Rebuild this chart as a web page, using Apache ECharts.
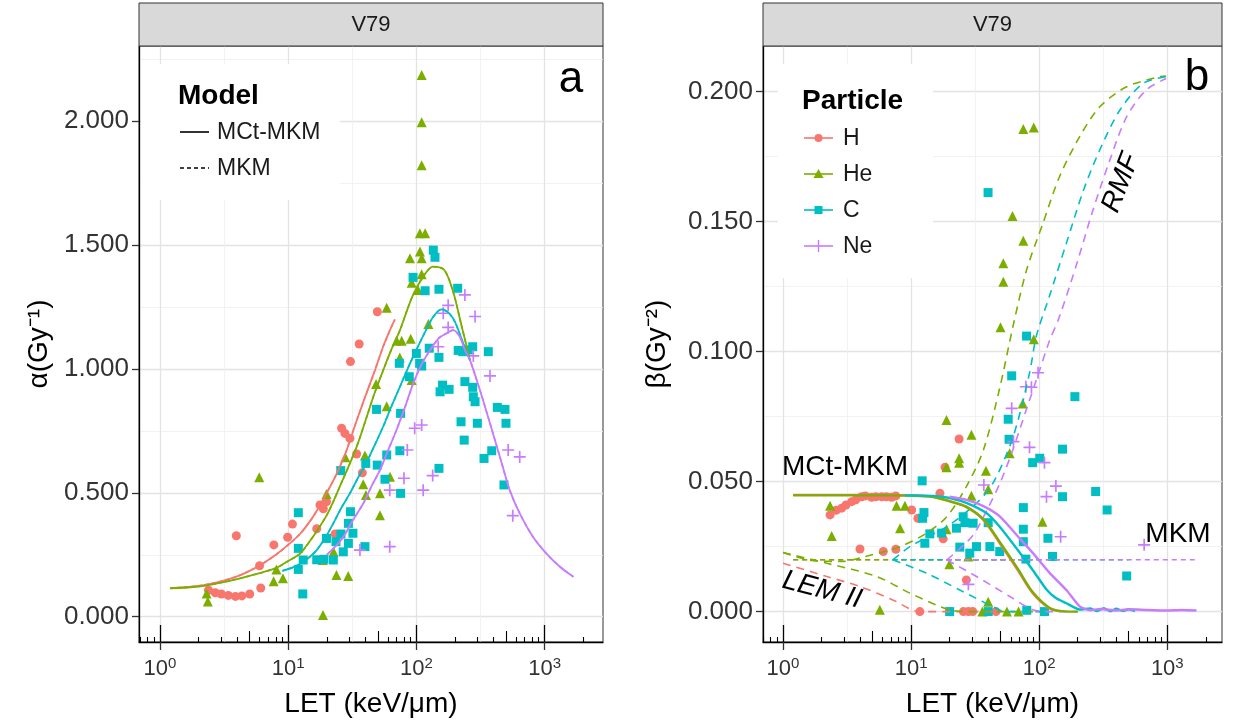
<!DOCTYPE html>
<html>
<head>
<meta charset="utf-8">
<script src="https://cdn.jsdelivr.net/npm/echarts@6/dist/echarts.min.js"></script>
<style>
html, body { margin: 0; background: #fff; }
#chart { width: 1233px; height: 726px; }
</style>
</head>
<body>
<div id="chart"></div>
<script>
// ---- axis ticks ----
const decadeTicks = [1, 10, 100, 1000];
const fiveTicks = [5, 50, 500];
const smallTicks = [0.7, 0.8, 0.9, 2, 3, 4, 6, 7, 8, 9, 20, 30, 40, 60, 70, 80, 90,
  200, 300, 400, 600, 700, 800, 900, 2000];
const halfDecades = [3.1623, 31.623, 316.23];
const alphaTicks = [0, 0.5, 1, 1.5, 2];
const alphaMinor = [0.25, 0.75, 1.25, 1.75, 2.25];
const betaTicks = [0, 0.05, 0.1, 0.15, 0.2];
const betaMinor = [0.025, 0.075, 0.125, 0.175];

// ---- panel a : alpha points [LET, alpha] ----
const alphaH = [[2.39,0.107],[2.70,0.097],[3.01,0.092],[3.41,0.086],[3.88,0.082],[4.35,0.084],[5.01,0.092],
  [3.94,0.327],[5.98,0.206],[6.11,0.116],[7.73,0.290],[9.91,0.321],[10.8,0.374],[16.7,0.355],[17.7,0.451],
  [18.8,0.436],[19.9,0.464],[23.2,0.334],[26.1,0.761],[27.7,0.740],[30.3,0.720],[30.6,1.03],[35.8,1.101],
  [49.6,1.231],[34.2,0.657],[37.9,0.581]];
const alphaHe = [[2.31,0.094],[2.36,0.061],[5.95,0.563],[7.7,0.143],[9.1,0.155],[8.1,0.191],[18.7,0.007],
  [19.9,0.495],[18.6,0.229],[22.6,0.262],[23.8,0.168],[29.4,0.164],[27.9,0.644],[39.7,0.651],[38.5,0.535],
  [40.4,0.491],[52,0.498],[52,0.41],[48.5,0.94],[58.7,0.85],[62.3,0.565],[58.7,1.247],[70.2,1.114],
  [76.8,1.114],[74.3,1.047],[90.3,1.122],[91.9,0.956],[91.9,1.348],[89.2,1.447],[106.6,1.474],[110,1.447],
  [103,1.319],[110,1.383],[106.5,1.548],[117,1.548],[110,1.823],[110,1.996],[110,2.187],[124,1.182]];
const alphaC = [[12.0,0.42],[13.0,0.092],[12.0,0.276],[12.0,0.191],[13.1,0.229],[16.7,0.23],[19.0,0.232],
  [19.9,0.316],[22.5,0.229],[23.6,0.303],[25.8,0.334],[26.9,0.262],[29.5,0.296],[30.6,0.424],[29.5,0.377],
  [32,0.337],[39.7,0.283],[25.7,0.59],[40.3,0.619],[49.5,0.612],[48.9,0.837],[58.7,0.653],[56.9,0.555],
  [75.3,0.498],[74.3,0.67],[75.3,0.821],[73.6,1.023],[88,0.969],[100,1.063],[106,1.023],[94.2,1.37],
  [117,1.316],[135.5,1.48],[139.7,1.451],[150,1.322],[210,1.326],[126,1.084],[150,1.047],[110,1.012],
  [212,1.075],[230,1.07],[254,1.077],[275,1.09],[364,1.07],[150,0.599],[153,0.908],[160,0.935],[180,0.918],
  [239,0.949],[275,0.926],[278,0.888],[287,0.868],[223,0.787],[299,0.781],[236,0.713],[428,0.845],
  [491,0.837],[500,0.781],[337,0.639],[387,0.67],[482,0.532]];
const alphaNe = [[36.3,0.269],[62,0.283],[62,0.511],[80,0.559],[85,0.673],[97,0.761],[110,0.774],[113,0.511],
  [134,0.57],[148,1.09],[177,1.257],[162,1.225],[177,1.168],[239,1.299],[287,1.212],[278,1.053],[375,0.972],
  [520,0.673],[640,0.645],[565,0.408]];

// ---- panel a : model curves ----
const alphaModelH = [[1.2,0.115],[2,0.125],[3,0.143],[4,0.163],[5,0.185],[6.4,0.216],[8,0.25],[10,0.29],
  [12.4,0.335],[15,0.39],[17.5,0.445],[20,0.5],[23.5,0.57],[28,0.66],[33.6,0.78],[40,0.89],[47.9,1.0],
  [55,1.09],[61.4,1.15],[68,1.2]];
const alphaModelHe = [[1.2,0.115],[2,0.122],[3.5,0.145],[5,0.165],[7.9,0.195],[10,0.225],[12.4,0.255],
  [14.5,0.3],[16.7,0.345],[20,0.41],[22.5,0.465],[26,0.54],[30.3,0.619],[35,0.7],[40.6,0.8],[47,0.9],
  [55.2,0.996],[64,1.08],[74.5,1.157],[85,1.24],[94.5,1.3],[113,1.373],[135,1.413],[165,1.40],[194,1.31],
  [225,1.175],[262,1.036]];
const alphaModelC = [[9,0.185],[11,0.2],[13,0.22],[15,0.245],[16.7,0.269],[19.5,0.32],[22.5,0.377],[26,0.44],
  [30.3,0.498],[35,0.56],[40.6,0.619],[47,0.69],[55,0.767],[64,0.85],[74.5,0.929],[87,1.01],[100,1.077],
  [117,1.15],[135,1.21],[157,1.241],[180,1.225],[200,1.19],[232,1.104],[262,1.036]];
const alphaModelNe = [[20,0.25],[24,0.29],[27,0.323],[32,0.39],[38.6,0.458],[45,0.53],[52,0.592],[60,0.67],
  [70,0.754],[82,0.85],[94.5,0.942],[110,1.02],[128,1.077],[150,1.125],[172,1.144],[194,1.157],[218,1.13],
  [239,1.077],[262,1.036],[313,0.915],[375,0.781],[448,0.646],[535,0.511],[640,0.417],[811,0.323],
  [1030,0.256],[1317,0.202],[1680,0.161]];

// ---- panel b : beta points ----
const betaH = [[2.33,0.0372],[2.6,0.039],[2.87,0.0398],[3.1,0.041],[3.44,0.0423],[3.7,0.043],[4.11,0.0442],
  [4.4,0.0445],[4.92,0.044],[5.3,0.0442],[5.89,0.0442],[6.4,0.0442],[7.05,0.044],[7.6,0.0445],[10.1,0.0391],
  [11.3,0.0359],[3.99,0.0241],[6.07,0.0231],[7.6,0.024],[11.7,0],[16.8,0.0455],[18.4,0.0555],[23.7,0.0664],
  [17.8,0.028],[27,0.0122],[20,0],[25.6,0],[28,0],[30.3,0],[46,0]];
const betaHe = [[2.33,0.0407],[2.4,0.0291],[5.7,0.0007],[7.7,0.0407],[8.95,0.0407],[8.2,0.0321],[18.9,0.0737],
  [18.9,0.0555],[18.9,0.0317],[19.9,0.0182],[23.7,0.059],[23.7,0.0573],[28,0.0212],[29.6,0.068],
  [29.6,0.0446],[38.4,0.0542],[40,0.0471],[40,0.0038],[49.9,0.1094],[52.5,0.134],[52.5,0.1269],
  [58.8,0.0609],[61.9,0.1522],[74.4,0.0801],[75.2,0.1427],[75.2,0.1857],[90.7,0.1862],[90.7,0.1048],
  [106,0.0346],[56,0],[69,0],[36,0]];
const betaC = [[12.2,0.0503],[12.6,0.0381],[12.3,0.0359],[14,0.0299],[12.8,0.0263],[17.3,0.0302],
  [22.6,0.0321],[26.3,0.0342],[25.5,0.0365],[30.5,0.034],[40,0.0342],[24,0.0248],[32.4,0.025],[41.2,0.025],
  [28.7,0.0225],[39.9,0.1612],[49.2,0.0231],[57.3,0.074],[58.2,0.0663],[61,0.0907],[75.2,0.0317],
  [75.2,0.0269],[75.2,0.04],[78.7,0.0202],[79.7,0.106],[88.9,0.0573],[101,0.059],[117,0.0282],[127,0.0212],
  [152,0.0625],[152,0.0442],[190,0.0827],[276,0.0462],[339,0.0391],[482,0.0137],[20,0],[40,0],
  [80,0.0005],[110,0]];
const betaNe = [[37,0.0487],[61,0.0782],[63,0.0654],[78.7,0.0865],[87,0.0863],[98,0.0919],[84,0.0632],
  [110,0.0573],[114,0.0442],[135,0.0483],[147,0.0288],[28,0.0105],[660,0.0257]];

// ---- panel b : MCt-MKM curves ----
const betaMctH = [[1.2,0.0449],[3,0.0449],[6,0.0449],[10,0.0447],[14.9,0.0442],[20,0.0425],[27,0.0404],
  [36.7,0.0353],[49.2,0.0263],[68,0.016],[89,0.0071],[120,0.0013],[146,0.0001]];
const betaMctHe = [[1.2,0.0447],[3,0.0447],[6,0.0447],[10,0.0446],[14.9,0.0441],[20,0.0424],[27,0.0402],
  [36.7,0.0355],[49.2,0.0268],[68,0.0165],[89,0.0075],[120,0.0015],[150,0.0002],[200,0]];
const betaMctC = [[9,0.0447],[15,0.0445],[20,0.0437],[27,0.0418],[38.9,0.0378],[49,0.0327],[68,0.0237],
  [89,0.016],[114,0.0085],[135,0.0052],[163,0.0032],[207,0.0008],[250,0.0012],[280,0.0002],[320,0.0013],
  [360,0.0001],[400,0.0011],[450,0.0003],[500,0.0009],[560,0.0002]];
const betaMctNe = [[20,0.0442],[27,0.043],[36.7,0.0406],[49,0.0367],[68,0.029],[89,0.0226],[120,0.015],
  [163,0.0083],[207,0.002],[250,0.0005],[300,0.001],[400,0.0004],[500,0.0009],[700,0.0006],[1000,0.0004],
  [1300,0.0006],[1690,0.0004]];

// ---- panel b : MKM, LEM II and RMF curves ----
const betaMkmH = [[1.2,0.0199],[60,0.0199]];
const betaMkmHe = [[1.2,0.0199],[110,0.0199]];
const betaMkmC = [[7.2,0.0199],[500,0.0199]];
const betaMkmNe = [[19,0.0199],[1700,0.0199]];
const betaLemH = [[1,0.0186],[2.2,0.0135],[4,0.0096],[7.2,0.0045],[11.7,0],[46,0]];
const betaLemHe = [[1,0.0227],[2.2,0.0186],[5.4,0.0135],[9.8,0.0071],[20,0.0007],[30,0],[110,0]];
const betaLemC = [[7.2,0.0199],[13.2,0.0148],[24,0.0083],[43.6,0.0019],[55,0],[120,0]];
const betaLemNe = [[19,0.0199],[32.4,0.0135],[59,0.0058],[89,0.0007],[120,0],[200,0]];
const betaRmfHe = [[1,0.0227],[1.8,0.0195],[2.9,0.0193],[4.4,0.0212],[8.2,0.025],[13.2,0.0302],[19,0.0365],
  [27,0.0481],[36.7,0.0622],[49.2,0.086],[62.6,0.11],[79.7,0.1314],[107,0.1494],[144,0.1673],[207,0.1827],
  [297,0.1942],[482,0.2019],[870,0.2058],[980,0.206]];
const betaRmfC = [[7.2,0.0199],[9.8,0.025],[19,0.0327],[32.4,0.0417],[43.6,0.0494],[62.6,0.0673],[84,0.0917],
  [95,0.106],[120,0.1212],[163,0.1417],[222,0.1622],[297,0.1776],[427,0.193],[647,0.2032],[980,0.2058]];
const betaRmfNe = [[19,0.0199],[30,0.029],[40,0.04],[50,0.05],[62,0.062],[79.7,0.078],[101,0.093],
  [120,0.104],[144,0.1135],[197,0.134],[263,0.1545],[356,0.1737],[482,0.1904],[686,0.2007],[980,0.2051]];

const colH = '#F8766D', colHe = '#7CAE00', colC = '#00BFC4', colNe = '#C77CFF';
const FONT = 'Liberation Sans, Arial, sans-serif';
const TICK_COL = '#333';
const plusPath = 'path://M4.3,0H5.7V4.3H10V5.7H5.7V10H4.3V5.7H0V4.3H4.3Z';

// panel boxes
const panels = [
  { left: 139, right: 603, xmin: 0.686, xmax: 2856, ymin: -0.102, ymax: 2.304,
    ticks: alphaTicks, minor: alphaMinor, yname: 'α(Gy⁻¹)', gap: 86, fmt: 3 },
  { left: 763, right: 1222, xmin: 0.698, xmax: 2674, ymin: -0.0117, ymax: 0.2176,
    ticks: betaTicks, minor: betaMinor, yname: 'β(Gy⁻²)', gap: 92, fmt: 3 }
];

const chartDom = document.getElementById('chart');
const myChart = echarts.init(chartDom);

const xAxes = [];
const yAxes = [];
panels.forEach((p, gi) => {
  const base = { gridIndex: gi, type: 'log', position: 'bottom', min: p.xmin, max: p.xmax,
    axisLine: { show: false, onZero: false }, axisLabel: { show: false }, splitLine: { show: false } };
  const inRange = arr => arr.filter(v => v > p.xmin && v < p.xmax);
  // main: labels, outside decade ticks, major grid
  xAxes.push(Object.assign({}, base, {
    axisLine: { show: true, onZero: false, lineStyle: { color: '#000', width: 1.3 } },
    axisTick: { show: true, customValues: decadeTicks, length: 8, lineStyle: { color: '#333', width: 1.3 } },
    axisLabel: {
      show: true, customValues: decadeTicks, margin: 14,
      formatter: v => '{b|10}{s|' + Math.round(Math.log10(v)) + '}',
      rich: {
        b: { fontFamily: FONT, fontSize: 22, color: TICK_COL, lineHeight: 26 },
        s: { fontFamily: FONT, fontSize: 15, color: TICK_COL, lineHeight: 14, verticalAlign: 'top' }
      }
    },
    splitLine: { show: true, lineStyle: { color: '#E3E3E3', width: 1.3 } },
    name: 'LET (keV/μm)', nameLocation: 'middle', nameGap: 48,
    nameTextStyle: { fontFamily: FONT, fontSize: 28, color: '#000' }
  }));
  // inside log ticks
  xAxes.push(Object.assign({}, base, { axisTick: { show: true, inside: true, customValues: decadeTicks,
    length: 17, lineStyle: { color: '#000', width: 1.3 } } }));
  xAxes.push(Object.assign({}, base, { axisTick: { show: true, inside: true, customValues: inRange(fiveTicks),
    length: 11, lineStyle: { color: '#000', width: 1.1 } } }));
  xAxes.push(Object.assign({}, base, { axisTick: { show: true, inside: true, customValues: inRange(smallTicks),
    length: 5, lineStyle: { color: '#000', width: 1.1 } } }));
  // minor grid at half decades
  xAxes.push(Object.assign({}, base, { axisTick: { show: false, customValues: halfDecades },
    splitLine: { show: true, lineStyle: { color: '#EFEFEF', width: 0.8 } } }));

  yAxes.push({
    gridIndex: gi, type: 'value', position: 'left', min: p.ymin, max: p.ymax,
    axisLine: { show: true, onZero: false, lineStyle: { color: '#000', width: 1.3 } },
    axisTick: { show: true, customValues: p.ticks, length: 7, lineStyle: { color: '#333', width: 1.3 } },
    axisLabel: { customValues: p.ticks, margin: 10, formatter: v => v.toFixed(p.fmt),
      fontFamily: FONT, fontSize: 26, color: TICK_COL },
    splitLine: { show: true, lineStyle: { color: '#E3E3E3', width: 1.3 } },
    name: p.yname, nameLocation: 'middle', nameRotate: 90, nameGap: p.gap,
    nameTextStyle: { fontFamily: FONT, fontSize: 28, color: '#000' }
  });
  yAxes.push({
    gridIndex: gi, type: 'value', position: 'left', min: p.ymin, max: p.ymax,
    axisLine: { show: false, onZero: false }, axisTick: { show: false, customValues: p.minor },
    axisLabel: { show: false },
    splitLine: { show: true, lineStyle: { color: '#EFEFEF', width: 0.8 } }
  });
});

function pts(data, gi, color, symbol, size) {
  return { type: 'scatter', data, xAxisIndex: gi * 5, yAxisIndex: gi * 2, symbol, symbolSize: size,
    itemStyle: { color, opacity: 1 }, z: 3, silent: true };
}
function curve(data, gi, color, dash, width, smooth) {
  return { type: 'line', data, xAxisIndex: gi * 5, yAxisIndex: gi * 2, showSymbol: false,
    smooth: smooth === undefined ? 0.3 : smooth,
    lineStyle: { color, width, type: dash || 'solid' }, z: 4, silent: true };
}

const series = [
  pts(alphaH, 0, colH, 'circle', 9),
  pts(alphaHe, 0, colHe, 'triangle', 10),
  pts(alphaC, 0, colC, 'rect', 9),
  pts(alphaNe, 0, colNe, plusPath, 12),
  curve(alphaModelH, 0, colH, [4, 3], 1.6),
  curve(alphaModelHe, 0, colHe, [4, 3], 1.6),
  curve(alphaModelC, 0, colC, [4, 3], 1.6),
  curve(alphaModelNe, 0, colNe, [4, 3], 1.6),
  curve(alphaModelH, 0, colH, 'solid', 1.8),
  curve(alphaModelHe, 0, colHe, 'solid', 1.8),
  curve(alphaModelC, 0, colC, 'solid', 1.8),
  curve(alphaModelNe, 0, colNe, 'solid', 1.8),

  pts(betaH, 1, colH, 'circle', 9),
  pts(betaHe, 1, colHe, 'triangle', 10),
  pts(betaC, 1, colC, 'rect', 9),
  pts(betaNe, 1, colNe, plusPath, 12),
  curve(betaMkmH, 1, colH, [5, 4], 1.5, false),
  curve(betaMkmHe, 1, colHe, [5, 4], 1.5, false),
  curve(betaMkmC, 1, colC, [5, 4], 1.5, false),
  curve(betaMkmNe, 1, colNe, [5, 4], 1.5, false),
  curve(betaLemH, 1, colH, [8, 6], 1.6),
  curve(betaLemHe, 1, colHe, [8, 6], 1.6),
  curve(betaLemC, 1, colC, [8, 6], 1.6),
  curve(betaLemNe, 1, colNe, [8, 6], 1.6),
  curve(betaRmfHe, 1, colHe, [8, 6], 1.6),
  curve(betaRmfC, 1, colC, [8, 6], 1.6),
  curve(betaRmfNe, 1, colNe, [8, 6], 1.6),
  curve(betaMctH, 1, colH, 'solid', 2.4),
  curve(betaMctHe, 1, colHe, 'solid', 2.4),
  curve(betaMctC, 1, colC, 'solid', 2.4, 0.2),
  curve(betaMctNe, 1, colNe, 'solid', 2.4, 0.2)
];

// strips, legends and text labels
const graphic = [];
panels.forEach(p => {
  graphic.push({ type: 'rect', shape: { x: p.left, y: 3, width: p.right - p.left, height: 43 },
    style: { fill: '#D9D9D9', stroke: '#333', lineWidth: 1 }, z: 10 });
  graphic.push({ type: 'text', x: (p.left + p.right) / 2, y: 25,
    style: { text: 'V79', font: '22px ' + FONT, fill: '#1A1A1A', align: 'center', verticalAlign: 'middle' }, z: 11 });
});
function txt(x, y, text, size, opts) {
  return Object.assign({ type: 'text', x, y, z: 12,
    style: Object.assign({ text, font: size + 'px ' + FONT, fill: '#000', align: 'left', verticalAlign: 'middle' },
      (opts && opts.style) || {}) }, (opts && opts.el) || {});
}
// legend a
graphic.push({ type: 'rect', shape: { x: 141, y: 64, width: 199, height: 136 }, style: { fill: '#fff' }, z: 1 });
graphic.push(txt(178, 96, 'Model', 28, { style: { font: 'bold 28px ' + FONT } }));
graphic.push({ type: 'line', shape: { x1: 180, y1: 132, x2: 209, y2: 132 }, style: { stroke: '#000', lineWidth: 1.6 }, z: 12 });
graphic.push({ type: 'line', shape: { x1: 180, y1: 168, x2: 209, y2: 168 }, style: { stroke: '#000', lineWidth: 1.6, lineDash: [4, 3] }, z: 12 });
graphic.push(txt(217, 133, 'MCt-MKM', 23, { style: { fill: '#1A1A1A' } }));
graphic.push(txt(217, 169, 'MKM', 23, { style: { fill: '#1A1A1A' } }));
graphic.push(txt(571, 80, 'a', 44, { style: { align: 'center' } }));
// legend b
graphic.push({ type: 'rect', shape: { x: 778, y: 64, width: 155, height: 214 }, style: { fill: '#fff' }, z: 1 });
graphic.push(txt(802, 101, 'Particle', 28, { style: { font: 'bold 28px ' + FONT } }));
[['H', colH, 138, 'circle'], ['He', colHe, 174, 'triangle'], ['C', colC, 210, 'rect'], ['Ne', colNe, 246, 'plus']]
  .forEach(([name, col, y, sym]) => {
    graphic.push({ type: 'line', shape: { x1: 804, y1: y, x2: 833, y2: y }, style: { stroke: col, lineWidth: 1.6 }, z: 12 });
    if (sym === 'circle') graphic.push({ type: 'circle', shape: { cx: 818.5, cy: y, r: 4 }, style: { fill: col }, z: 12 });
    if (sym === 'triangle') graphic.push({ type: 'polygon', shape: { points: [[818.5, y - 5], [823.5, y + 4], [813.5, y + 4]] }, style: { fill: col }, z: 12 });
    if (sym === 'rect') graphic.push({ type: 'rect', shape: { x: 814.5, y: y - 4, width: 8, height: 8 }, style: { fill: col }, z: 12 });
    if (sym === 'plus') graphic.push({ type: 'line', shape: { x1: 818.5, y1: y - 6, x2: 818.5, y2: y + 6 }, style: { stroke: col, lineWidth: 1.4 }, z: 12 });
    graphic.push(txt(843, y + 1, name, 23, { style: { fill: '#1A1A1A' } }));
  });
graphic.push(txt(1197, 78, 'b', 44, { style: { align: 'center' } }));
graphic.push(txt(845, 467, 'MCt-MKM', 28, { style: { align: 'center' } }));
graphic.push(txt(1178, 534, 'MKM', 28, { style: { align: 'center' } }));
graphic.push(txt(822, 590, 'LEM II', 28, { style: { align: 'center', font: 'italic 28px ' + FONT }, el: { rotation: -0.26 } }));
graphic.push(txt(1121, 183, 'RMF', 28, { style: { align: 'center', font: 'italic 28px ' + FONT }, el: { rotation: 1.2 } }));

const option = {
  animation: false,
  backgroundColor: '#fff',
  grid: panels.map(p => ({ left: p.left, right: 1233 - p.right, top: 46, bottom: 84,
    show: true, borderColor: '#333', borderWidth: 1, backgroundColor: 'transparent' })),
  xAxis: xAxes,
  yAxis: yAxes,
  series,
  graphic
};
option && myChart.setOption(option);
</script>
</body>
</html>
